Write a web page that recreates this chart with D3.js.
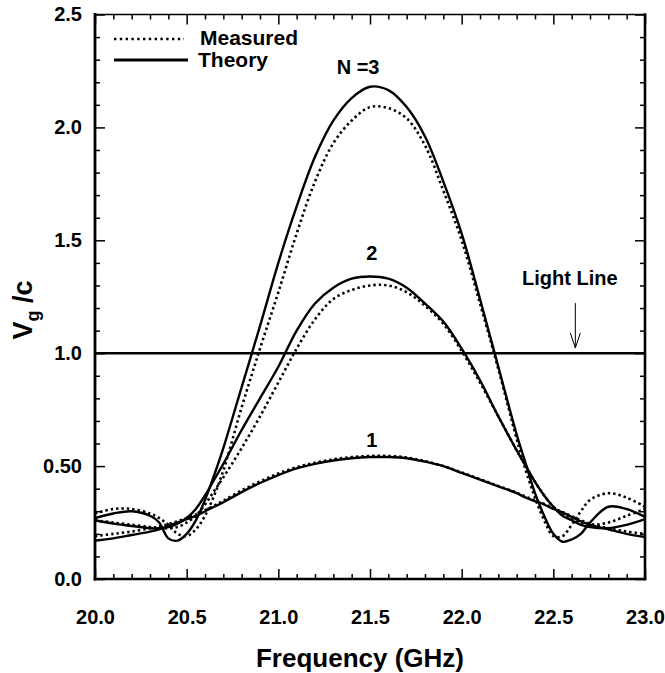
<!DOCTYPE html>
<html>
<head>
<meta charset="utf-8">
<script src="https://cdn.jsdelivr.net/npm/d3@7"></script>
<style>
  body { margin: 0; background: #fff; }
  svg { display: block; }
</style>
</head>
<body>
<div id="chart"></div>
<script>
// frequency samples (GHz), shared by every curve
const freq = [20.0, 20.1, 20.2, 20.3, 20.35, 20.4, 20.45, 20.5, 20.55, 20.6, 20.65, 20.7, 20.8, 20.9,
  21.0, 21.1, 21.2, 21.3, 21.4, 21.5, 21.6, 21.7, 21.8, 21.9, 22.0, 22.1, 22.2, 22.3, 22.35, 22.4,
  22.45, 22.5, 22.55, 22.6, 22.65, 22.7, 22.8, 22.9, 23.0]

// Vg/c
const theory1 = [0.17, 0.18, 0.195, 0.21, 0.22, 0.235, 0.25, 0.265, 0.28, 0.30, 0.32, 0.34, 0.385, 0.425,
  0.46, 0.49, 0.51, 0.525, 0.535, 0.54, 0.54, 0.535, 0.52, 0.50, 0.47, 0.44, 0.41, 0.38, 0.36, 0.345,
  0.33, 0.31, 0.295, 0.275, 0.255, 0.24, 0.22, 0.20, 0.186]
const measured1 = [0.19, 0.20, 0.21, 0.225, 0.232, 0.243, 0.256, 0.27, 0.285, 0.305, 0.325, 0.347, 0.392, 0.432,
  0.467, 0.495, 0.515, 0.53, 0.54, 0.545, 0.545, 0.538, 0.522, 0.50, 0.472, 0.442, 0.412, 0.382, 0.364, 0.348,
  0.332, 0.313, 0.297, 0.278, 0.26, 0.245, 0.225, 0.21, 0.20]
const theory2 = [0.26, 0.245, 0.235, 0.225, 0.225, 0.23, 0.245, 0.27, 0.31, 0.37, 0.44, 0.51, 0.66, 0.80,
  0.94, 1.10, 1.22, 1.29, 1.33, 1.34, 1.33, 1.29, 1.22, 1.14, 1.02, 0.88, 0.72, 0.57, 0.50, 0.43,
  0.37, 0.32, 0.28, 0.26, 0.24, 0.23, 0.225, 0.24, 0.265]
const measured2 = [0.26, 0.25, 0.24, 0.23, 0.225, 0.225, 0.23, 0.25, 0.28, 0.33, 0.39, 0.45, 0.58, 0.72,
  0.87, 1.02, 1.15, 1.24, 1.28, 1.30, 1.30, 1.27, 1.21, 1.13, 1.01, 0.87, 0.72, 0.57, 0.50, 0.43,
  0.37, 0.32, 0.29, 0.27, 0.25, 0.24, 0.25, 0.28, 0.31]
const theory3 = [0.27, 0.29, 0.30, 0.28, 0.25, 0.18, 0.17, 0.20, 0.26, 0.35, 0.46, 0.58, 0.85, 1.12,
  1.40, 1.65, 1.87, 2.03, 2.13, 2.18, 2.165, 2.09, 1.96, 1.76, 1.53, 1.24, 0.94, 0.64, 0.51, 0.38,
  0.28, 0.20, 0.165, 0.175, 0.20, 0.25, 0.32, 0.31, 0.275]
const measured3 = [0.29, 0.31, 0.31, 0.29, 0.27, 0.24, 0.20, 0.19, 0.22, 0.28, 0.37, 0.48, 0.76, 1.02,
  1.27, 1.53, 1.76, 1.93, 2.03, 2.09, 2.085, 2.04, 1.92, 1.72, 1.50, 1.22, 0.93, 0.62, 0.48, 0.36,
  0.26, 0.19, 0.19, 0.24, 0.30, 0.35, 0.38, 0.36, 0.32]

const xTicks = [20.0, 20.5, 21.0, 21.5, 22.0, 22.5, 23.0]
const xTickLabels = ['20.0', '20.5', '21.0', '21.5', '22.0', '22.5', '23.0']
const yTicks = [0, 0.5, 1.0, 1.5, 2.0, 2.5]
const yTickLabels = ['0.0', '0.50', '1.0', '1.5', '2.0', '2.5']

const curveLabels = [
  { text: 'N =3', f: 21.435, v: 2.236 },
  { text: '2', f: 21.51, v: 1.413 },
  { text: '1', f: 21.51, v: 0.584 }
]
const lightLine = 1.0

const width = 665
const height = 673
const margin = { top: 14.5, right: 20, bottom: 94, left: 95 }
const font = "'Liberation Sans', Arial, sans-serif"

const svg = d3.select('#chart').append('svg')
  .attr('width', width)
  .attr('height', height)
  .style('background-color', '#fff')

const x = d3.scaleLinear().domain([20, 23]).range([margin.left, width - margin.right])
const y = d3.scaleLinear().domain([0, 2.5]).range([height - margin.bottom, margin.top])

const line = d3.line()
  .x(d => x(d[0]))
  .y(d => y(d[1]))
  .curve(d3.curveCatmullRom.alpha(0.5))

const series = [
  { values: measured1, dotted: true },
  { values: measured2, dotted: true },
  { values: measured3, dotted: true },
  { values: theory1, dotted: false },
  { values: theory2, dotted: false },
  { values: theory3, dotted: false }
]

svg.append('g')
  .selectAll('path')
  .data(series)
  .enter()
  .append('path')
  .attr('d', s => line(freq.map((f, i) => [f, s.values[i]])))
  .attr('fill', 'none')
  .attr('stroke', '#000')
  .attr('stroke-width', s => s.dotted ? 2.6 : 2.4)
  .attr('stroke-dasharray', s => s.dotted ? '2.4,3' : null)

// light line
svg.append('line')
  .attr('x1', x(20)).attr('x2', x(23))
  .attr('y1', y(lightLine)).attr('y2', y(lightLine))
  .attr('stroke', '#000')
  .attr('stroke-width', 2.6)

// ticks
const minorX = d3.range(20, 23.0001, 0.1).filter(v => Math.abs(v * 2 - Math.round(v * 2)) > 1e-6)
const minorY = d3.range(0, 2.5001, 0.1).filter(v => Math.abs(v * 2 - Math.round(v * 2)) > 1e-6)

const styleAxis = g => {
  g.select('.domain').remove()
  g.selectAll('line').attr('stroke', '#000').attr('stroke-width', 1.5)
  g.attr('font-family', font).attr('font-size', 20).attr('font-weight', 'bold')
  g.selectAll('text').attr('fill', '#000')
}

svg.append('g').attr('transform', `translate(0,${y(0)})`)
  .call(d3.axisBottom(x).tickValues(minorX).tickSize(-5).tickFormat(''))
  .call(styleAxis)
svg.append('g').attr('transform', `translate(0,${y(0)})`)
  .call(d3.axisBottom(x).tickValues(xTicks).tickSize(-10).tickPadding(31)
    .tickFormat((d, i) => xTickLabels[i]))
  .call(styleAxis)

svg.append('g').attr('transform', `translate(0,${y(2.5)})`)
  .call(d3.axisTop(x).tickValues(minorX).tickSize(-5).tickFormat(''))
  .call(styleAxis)
svg.append('g').attr('transform', `translate(0,${y(2.5)})`)
  .call(d3.axisTop(x).tickValues(xTicks).tickSize(-10).tickFormat(''))
  .call(styleAxis)

svg.append('g').attr('transform', `translate(${x(20)},0)`)
  .call(d3.axisLeft(y).tickValues(minorY).tickSize(-5).tickFormat(''))
  .call(styleAxis)
svg.append('g').attr('transform', `translate(${x(20)},0)`)
  .call(d3.axisLeft(y).tickValues(yTicks).tickSize(-10).tickPadding(13)
    .tickFormat((d, i) => yTickLabels[i]))
  .call(styleAxis)

svg.append('g').attr('transform', `translate(${x(23)},0)`)
  .call(d3.axisRight(y).tickValues(minorY).tickSize(-5).tickFormat(''))
  .call(styleAxis)
svg.append('g').attr('transform', `translate(${x(23)},0)`)
  .call(d3.axisRight(y).tickValues(yTicks).tickSize(-10).tickFormat(''))
  .call(styleAxis)

// frame
const frame = [
  [x(20), y(0), x(23), y(0), 2.6],
  [x(20), y(0), x(20), y(2.5), 2.8],
  [x(23), y(0), x(23), y(2.5), 2.6],
  [x(20), y(2.5), x(23), y(2.5), 1.7]
]
svg.append('g').selectAll('line').data(frame).enter().append('line')
  .attr('x1', d => d[0]).attr('y1', d => d[1])
  .attr('x2', d => d[2]).attr('y2', d => d[3])
  .attr('stroke', '#000')
  .attr('stroke-width', d => d[4])
  .attr('stroke-linecap', 'square')

// curve labels
svg.append('g').selectAll('text').data(curveLabels).enter().append('text')
  .attr('x', d => x(d.f))
  .attr('y', d => y(d.v))
  .attr('text-anchor', 'middle')
  .attr('font-family', font).attr('font-size', 20).attr('font-weight', 'bold')
  .text(d => d.text)

// light line note and arrow
svg.append('text')
  .attr('x', x(22.59)).attr('y', y(1.30))
  .attr('text-anchor', 'middle')
  .attr('font-family', font).attr('font-size', 20).attr('font-weight', 'bold')
  .text('Light Line')
const ax = x(22.62)
svg.append('path')
  .attr('d', `M${ax},${y(1.222)}V${y(1.023)}M${ax - 5},${y(1.09)}L${ax},${y(1.023)}L${ax + 5},${y(1.09)}`)
  .attr('fill', 'none')
  .attr('stroke', '#000')
  .attr('stroke-width', 1)

// legend
const legend = svg.append('g').attr('font-family', font).attr('font-size', 21).attr('font-weight', 'bold')
legend.append('line').attr('x1', 114).attr('x2', 184).attr('y1', 39).attr('y2', 39)
  .attr('stroke', '#000').attr('stroke-width', 2.6).attr('stroke-dasharray', '2.4,3.4')
legend.append('text').attr('x', 200).attr('y', 45).text('Measured')
legend.append('line').attr('x1', 114).attr('x2', 188).attr('y1', 60).attr('y2', 60)
  .attr('stroke', '#000').attr('stroke-width', 2.8)
legend.append('text').attr('x', 198).attr('y', 67).text('Theory')

// axis titles
svg.append('text')
  .attr('x', (x(20) + x(23)) / 2 - 10)
  .attr('y', 667)
  .attr('text-anchor', 'middle')
  .attr('font-family', font).attr('font-size', 26).attr('font-weight', 'bold')
  .text('Frequency (GHz)')

const yTitle = svg.append('text')
  .attr('transform', 'translate(32,310) rotate(-90)')
  .attr('text-anchor', 'middle')
  .attr('font-family', font).attr('font-size', 27).attr('font-weight', 'bold')
yTitle.append('tspan').text('V')
yTitle.append('tspan').attr('font-size', 18).attr('dy', 7).text('g')
yTitle.append('tspan').attr('dy', -7).text(' /c')
</script>
</body>
</html>
